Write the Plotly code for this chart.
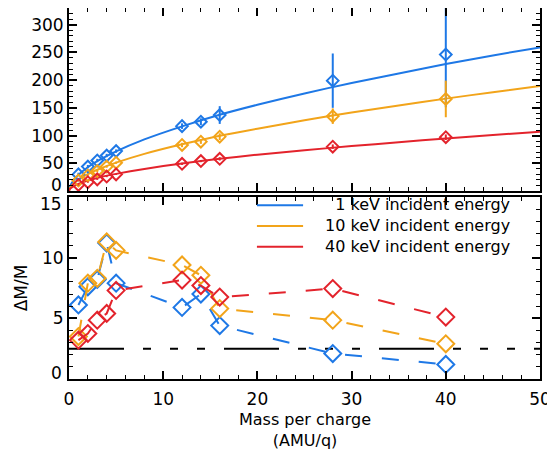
import plotly.graph_objects as go

# ---------------- data ----------------
mass = [1, 2, 3, 4, 5, 12, 14, 16, 28, 40]

# top panel: measured values with error bars
blue_top = [30, 44, 55, 64, 72, 117, 125, 137, 199, 246]
orange_top = [19, 28, 36, 44, 51, 83, 89, 98, 135, 166]
red_top = [11, 16, 21, 26, 30, 49, 54, 58, 80, 97]
blue_err = [3, 3, 3, 3, 3, 5, 6, 16, 49, 95]
orange_err = [2, 2, 2, 2, 2, 4, 4, 6, 14, 33]
red_err = [1, 1, 1, 1, 1, 2, 2, 3, 4, 5]

# top panel: fitted curves
fit_x = [0, 0.1, 0.5, 1, 2, 3, 5, 8, 12, 16, 20, 25, 30, 35, 40, 45, 50]
blue_fit = [0, 8, 19.6, 29, 42.8, 53.7, 71.4, 93, 116.6, 137.5, 155.5, 176, 194.8, 212, 229, 244.5, 259]
orange_fit = [0, 5.5, 13.8, 20.5, 30.4, 38.3, 51.2, 67, 84.3, 99.5, 112.4, 127.6, 141.5, 154.4, 166.6, 178.2, 189.2]
red_fit = [0, 3.7, 8.9, 13, 18.9, 23.6, 30.9, 39.8, 49.8, 58.1, 65.5, 73.6, 81, 88, 94.8, 101, 107]

# bottom panel: resolution dM/M
blue_res = [6.1, 7.6, 8.2, 11.2, 7.9, 5.9, 7.0, 4.4, 2.1, 1.2]
orange_res = [3.5, 7.9, 8.3, 11.3, 10.6, 9.4, 8.55, 5.8, 4.85, 2.9]
red_res = [3.2, 3.75, 4.85, 5.4, 7.3, 8.15, 7.7, 6.75, 7.45, 5.1]
threshold = 2.5
threshold_x = [0, 50]

# ticks / labels
x_ticks = [0, 10, 20, 30, 40, 50]
top_y_ticks = [0, 50, 100, 150, 200, 250, 300]
bottom_y_ticks = [0, 5, 10, 15]
legend_labels = ["1 keV incident energy", "10 keV incident energy", "40 keV incident energy"]
x_title = ["Mass per charge", "(AMU/q)"]
y_title = "ΔM/M"

# ---------------- style ----------------
BLUE = "#1E78E6"
ORANGE = "#F2A41A"
RED = "#E3232C"
colors = [BLUE, ORANGE, RED]
FONT = "DejaVu Sans"
FS = 17

fig = go.Figure()

# top panel
for fit, col in zip([blue_fit, orange_fit, red_fit], colors):
    fig.add_trace(go.Scatter(x=fit_x, y=fit, mode="lines",
                             line=dict(color=col, width=2, shape="spline", smoothing=0.5),
                             xaxis="x", yaxis="y", showlegend=False, hoverinfo="skip"))
for pts, err, col in zip([blue_top, orange_top, red_top],
                         [blue_err, orange_err, red_err], colors):
    fig.add_trace(go.Scatter(x=mass, y=pts, mode="markers",
                             marker=dict(symbol="diamond-open", size=9, color=col,
                                         line=dict(width=2, color=col)),
                             error_y=dict(type="data", array=err, visible=True,
                                          color=col, thickness=2, width=0),
                             xaxis="x", yaxis="y", showlegend=False))

# bottom panel
fig.add_trace(go.Scatter(x=threshold_x, y=[threshold, threshold], mode="lines",
                         line=dict(color="black", width=2,
                                   dash="55px,19px,8px,19px,8px,19px,8px,19px"),
                         xaxis="x2", yaxis="y2", showlegend=False, hoverinfo="skip"))
for res, col in zip([blue_res, orange_res, red_res], colors):
    fig.add_trace(go.Scatter(x=mass, y=res, mode="lines+markers",
                             line=dict(color=col, width=2, dash="17px,20px"),
                             marker=dict(symbol="diamond-open", size=13, color=col,
                                         line=dict(width=2, color=col)),
                             xaxis="x2", yaxis="y2", showlegend=False))

# legend drawn as short lines + one right-aligned multi-line text
LFS = 16
row_step = 1.3 * LFS / 182.0       # line spacing expressed in y2-domain units
legend_mid = 0.8407
legend_rows = [legend_mid + row_step, legend_mid, legend_mid - row_step]
for col, yy in zip(colors, legend_rows):
    fig.add_shape(type="line", xref="x2 domain", yref="y2 domain",
                  x0=0.399, x1=0.497, y0=yy, y1=yy,
                  line=dict(color=col, width=2))
fig.add_annotation(text="<br>".join(legend_labels), xref="x2 domain", yref="y2 domain",
                   x=0.9406, y=legend_mid, xanchor="right", yanchor="middle", align="right",
                   showarrow=False, font=dict(family=FONT, size=LFS, color="black"))

# edge tick labels (shifted inward as in the original)
fig.add_annotation(text=str(top_y_ticks[0]), xref="paper", yref="y", x=0, y=top_y_ticks[0],
                   xanchor="right", yanchor="middle", xshift=-5, yshift=6, showarrow=False,
                   font=dict(family=FONT, size=FS, color="black"))
fig.add_annotation(text=str(bottom_y_ticks[-1]), xref="paper", yref="y2", x=0, y=bottom_y_ticks[-1],
                   xanchor="right", yanchor="middle", xshift=-5, yshift=-7, showarrow=False,
                   font=dict(family=FONT, size=FS, color="black"))
fig.add_annotation(text=str(bottom_y_ticks[0]), xref="paper", yref="y2", x=0, y=bottom_y_ticks[0],
                   xanchor="right", yanchor="middle", xshift=-5, yshift=6, showarrow=False,
                   font=dict(family=FONT, size=FS, color="black"))

# x-axis title (two lines)
fig.add_annotation(text="<br>".join(x_title), xref="paper", yref="paper", x=0.5, y=-0.137,
                   xanchor="center", yanchor="middle", showarrow=False,
                   font=dict(family=FONT, size=16, color="black"))

axis_common = dict(showline=True, linewidth=2, linecolor="black", mirror="allticks",
                   ticks="inside", ticklen=8, tickwidth=1.5, tickcolor="black",
                   showgrid=False, zeroline=False, automargin=False,
                   tickfont=dict(family=FONT, size=FS, color="black"))

# the page body adds an 8px offset, so the figure is 8px smaller on each axis
fig.update_layout(
    width=547, height=446,
    margin=dict(l=61, r=15, t=0, b=75, autoexpand=False),
    paper_bgcolor="white", plot_bgcolor="white",
    font=dict(family=FONT, size=FS, color="black"),
    xaxis=dict(domain=[0, 1], anchor="y", range=[0, 50],
               tickvals=x_ticks, showticklabels=False,
               minor=dict(dtick=2, tick0=0, ticks="inside", ticklen=4, tickwidth=1.2, tickcolor="black"),
               **axis_common),
    yaxis=dict(domain=[0.5067, 1], anchor="x", range=[0, 330],
               tickvals=top_y_ticks,
               ticktext=[""] + [str(v) for v in top_y_ticks[1:]],
               minor=dict(dtick=10, tick0=0, ticks="inside", ticklen=4, tickwidth=1.2, tickcolor="black"),
               **axis_common),
    xaxis2=dict(domain=[0, 1], anchor="y2", range=[0, 50],
                tickvals=x_ticks, ticktext=[str(v) for v in x_ticks], ticklabelstandoff=4,
                minor=dict(dtick=2, tick0=0, ticks="inside", ticklen=4, tickwidth=1.2, tickcolor="black"),
                **axis_common),
    yaxis2=dict(domain=[0, 0.4906], anchor="x2", range=[0, 15],
                tickvals=bottom_y_ticks,
                ticktext=[""] + [str(v) for v in bottom_y_ticks[1:-1]] + [""],
                title=dict(text=y_title, font=dict(family=FONT, size=FS, color="black"), standoff=10),
                minor=dict(dtick=1, tick0=0, ticks="inside", ticklen=4, tickwidth=1.2, tickcolor="black"),
                **axis_common),
)

fig.write_html("out.html")
